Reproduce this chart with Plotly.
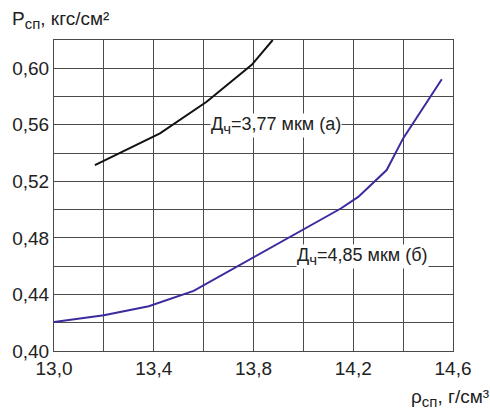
import plotly.graph_objects as go

# Curve (a): Дч = 3.77 мкм
rho_a = [13.164, 13.425, 13.612, 13.793, 13.877]
p_a = [0.5315, 0.554, 0.5763, 0.6024, 0.620]

# Curve (б): Дч = 4.85 мкм
rho_b = [13.0, 13.2, 13.38, 13.56, 14.15, 14.22, 14.334, 14.40, 14.555]
p_b = [0.4205, 0.4253, 0.4317, 0.4425, 0.5008, 0.509, 0.528, 0.5504, 0.5922]

x_ticks = [13.0, 13.4, 13.8, 14.2, 14.6]
y_ticks = [0.40, 0.44, 0.48, 0.52, 0.56, 0.60]

SUB = '<sub><span style="font-size:15px">{}</span></sub>'
label_a = "Д" + SUB.format("ч") + "=3,77 мкм (а)"
label_b = "Д" + SUB.format("ч") + "=4,85 мкм (б)"
title_y = "P" + SUB.format("сп") + ", кгс/см²"
title_x = "ρ" + SUB.format("сп") + ", г/см³"

FONT = "Liberation Sans, Arial, sans-serif"
GRID = "#4a4a4a"
TXT = "#222222"

fig = go.Figure()
fig.add_trace(go.Scatter(x=rho_a, y=p_a, mode="lines",
                         line=dict(color="#111111", width=2), showlegend=False))
fig.add_trace(go.Scatter(x=rho_b, y=p_b, mode="lines",
                         line=dict(color="#3a2c9e", width=2), showlegend=False))

L, R, T, B = 54, 37, 40, 58
fig.update_layout(
    width=490, height=409,
    margin=dict(l=L, r=R, t=T, b=B, autoexpand=False),
    paper_bgcolor="white", plot_bgcolor="white",
    separators=", ",
    font=dict(family=FONT, size=19, color=TXT),
    xaxis=dict(range=[13.0, 14.6], tickvals=x_ticks, tickformat=".1f",
               showgrid=True, gridcolor=GRID, gridwidth=1,
               minor=dict(dtick=0.2, tick0=13.0, showgrid=True, gridcolor=GRID, gridwidth=1),
               showline=True, linecolor=GRID, linewidth=1, mirror=True,
               ticks="", ticklen=0, zeroline=False, automargin=False,
               tickfont=dict(size=19)),
    yaxis=dict(range=[0.40, 0.62], tickvals=y_ticks, tickformat=".2f",
               showgrid=True, gridcolor=GRID, gridwidth=1,
               minor=dict(dtick=0.02, tick0=0.40, showgrid=True, gridcolor=GRID, gridwidth=1),
               showline=True, linecolor=GRID, linewidth=1, mirror=True,
               ticks="", ticklen=0, zeroline=False, automargin=False,
               tickfont=dict(size=19)),
)

fig.add_annotation(x=13.892, y=0.5595, xref="x", yref="y", text=label_a,
                   showarrow=False, bgcolor="white", font=dict(size=18, color=TXT),
                   borderpad=0)
fig.add_annotation(x=14.239, y=0.4666, xref="x", yref="y", text=label_b,
                   showarrow=False, bgcolor="white", font=dict(size=18, color=TXT),
                   borderpad=0)

pw = 490 - L - R
ph = 409 - T - B
fig.add_annotation(x=(10 - L) / pw, y=(409 - B - 20) / ph, xref="paper", yref="paper",
                   text=title_y, showarrow=False, xanchor="left", yanchor="middle",
                   font=dict(size=19, color=TXT))
fig.add_annotation(x=(491 - L) / pw, y=(409 - B - 398) / ph, xref="paper", yref="paper",
                   text=title_x, showarrow=False, xanchor="right", yanchor="middle",
                   font=dict(size=19, color=TXT))

fig.write_html("out.html", config={"displayModeBar": False},
               post_script="document.body.style.margin='0';")
